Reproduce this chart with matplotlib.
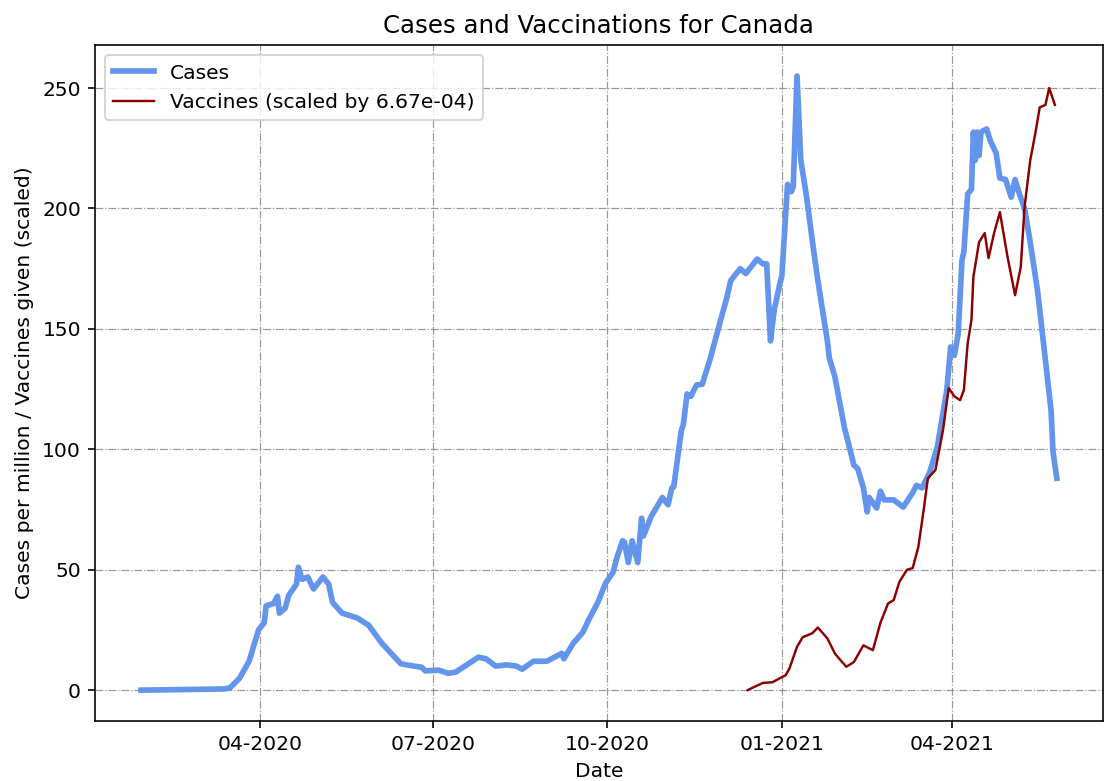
import pandas as pd
import matplotlib
matplotlib.use("Agg")
import matplotlib.pyplot as plt
import matplotlib.dates as mdates

# daily cases per million
case_dates = [
    "2020-01-29", "2020-03-13", "2020-03-16", "2020-03-21", "2020-03-26", "2020-03-31",
    "2020-04-03", "2020-04-04", "2020-04-08", "2020-04-10", "2020-04-11", "2020-04-14",
    "2020-04-16", "2020-04-20", "2020-04-21", "2020-04-23", "2020-04-26", "2020-04-29",
    "2020-05-04", "2020-05-07", "2020-05-09", "2020-05-14", "2020-05-22", "2020-05-28",
    "2020-06-04", "2020-06-14", "2020-06-17", "2020-06-25", "2020-06-27", "2020-07-04",
    "2020-07-09", "2020-07-13", "2020-07-25", "2020-07-29", "2020-08-03", "2020-08-09",
    "2020-08-14", "2020-08-17", "2020-08-23", "2020-08-30", "2020-09-07", "2020-09-08",
    "2020-09-13", "2020-09-18", "2020-09-21", "2020-09-26", "2020-09-30", "2020-10-04",
    "2020-10-06", "2020-10-09", "2020-10-10", "2020-10-12", "2020-10-14", "2020-10-17",
    "2020-10-19", "2020-10-20", "2020-10-24", "2020-10-30", "2020-11-02", "2020-11-04",
    "2020-11-05", "2020-11-09", "2020-11-10", "2020-11-12", "2020-11-14", "2020-11-17",
    "2020-11-20", "2020-11-24", "2020-11-30", "2020-12-03", "2020-12-05", "2020-12-10",
    "2020-12-13", "2020-12-19", "2020-12-22", "2020-12-24", "2020-12-26", "2020-12-28",
    "2020-12-31", "2021-01-01", "2021-01-04", "2021-01-06", "2021-01-07", "2021-01-09",
    "2021-01-11", "2021-01-14", "2021-01-17", "2021-01-20", "2021-01-25", "2021-01-26",
    "2021-01-29", "2021-02-03", "2021-02-08", "2021-02-10", "2021-02-13", "2021-02-15",
    "2021-02-16", "2021-02-20", "2021-02-22", "2021-02-24", "2021-03-01", "2021-03-06",
    "2021-03-11", "2021-03-13", "2021-03-16", "2021-03-20", "2021-03-24", "2021-03-27",
    "2021-03-29", "2021-03-31", "2021-04-02", "2021-04-04", "2021-04-06", "2021-04-07",
    "2021-04-09", "2021-04-11", "2021-04-12", "2021-04-13", "2021-04-14", "2021-04-15",
    "2021-04-16", "2021-04-19", "2021-04-21", "2021-04-24", "2021-04-26", "2021-04-29",
    "2021-05-02", "2021-05-04", "2021-05-06", "2021-05-09", "2021-05-12", "2021-05-16",
    "2021-05-20", "2021-05-23", "2021-05-24", "2021-05-26",
]
case_values = [
    0, 0.5, 1, 5, 12, 25,
    28, 35, 36, 39, 32, 34,
    39.5, 44, 51, 46, 47, 42,
    47, 44, 36.5, 32, 30, 27,
    19.5, 11, 10.5, 9.5, 8, 8.3,
    7, 7.5, 13.7, 13, 10, 10.5,
    10, 8.7, 12, 12, 15.3, 13,
    19.5, 24, 29, 36.5, 44.4, 49,
    55, 62, 61.5, 53, 62, 53,
    71.4, 64, 72, 80, 77, 84,
    84.5, 108, 110, 123, 122, 126.7,
    127, 137, 154.5, 163, 170, 175,
    173, 179, 177, 177, 145, 158,
    169, 172, 210, 207, 209, 255,
    220, 205, 187, 170, 145, 138,
    130, 109, 93.4, 92, 84, 74,
    80, 75.6, 82.6, 79, 79, 76,
    82, 85, 84, 90.5, 101, 115,
    124.6, 142.5, 139, 148, 178.6, 182,
    206, 208, 231.7, 220, 231.7, 222,
    231.7, 233, 228, 223, 212.6, 212,
    204.7, 212, 206.8, 200, 186, 165,
    137, 116, 99, 88,
]

# vaccines given, already multiplied by the scale factor
vacc_dates = [
    "2020-12-14", "2020-12-17", "2020-12-22", "2020-12-27", "2021-01-03", "2021-01-05",
    "2021-01-09", "2021-01-12", "2021-01-17", "2021-01-20", "2021-01-25", "2021-01-29",
    "2021-01-31", "2021-02-04", "2021-02-08", "2021-02-13", "2021-02-18", "2021-02-22",
    "2021-02-26", "2021-03-01", "2021-03-04", "2021-03-08", "2021-03-11", "2021-03-14",
    "2021-03-17", "2021-03-19", "2021-03-23", "2021-03-27", "2021-03-30", "2021-04-02",
    "2021-04-05", "2021-04-07", "2021-04-09", "2021-04-11", "2021-04-12", "2021-04-15",
    "2021-04-18", "2021-04-20", "2021-04-23", "2021-04-26", "2021-04-30", "2021-05-04",
    "2021-05-07", "2021-05-09", "2021-05-12", "2021-05-15", "2021-05-17", "2021-05-20",
    "2021-05-22", "2021-05-25",
]
vacc_values = [
    0, 1.2, 3, 3.3, 6.2, 9,
    18, 22, 23.6, 26, 21.5, 15.2,
    13.3, 9.7, 11.7, 18.6, 16.6, 28,
    36, 37.4, 45, 50, 50.7, 59.5,
    76, 88, 91.4, 108, 125.4, 122,
    120.4, 124.6, 144, 153.7, 171.5, 186,
    189.8, 179.4, 190, 198.5, 180, 164,
    175.7, 200.6, 220, 232.6, 242, 243,
    250, 243,
]
scale = 6.67e-04

DPI = 146
fig, ax = plt.subplots(figsize=(1107 / DPI, 781 / DPI), dpi=DPI)
fig.subplots_adjust(left=0.086, right=0.996, top=0.942, bottom=0.077)

ax.plot(pd.to_datetime(case_dates), case_values, color="cornflowerblue",
        linewidth=2.8, label="Cases")
ax.plot(pd.to_datetime(vacc_dates), vacc_values, color="darkred",
        linewidth=1.2, label=f"Vaccines (scaled by {scale:.2e})")

ax.xaxis.set_major_locator(mdates.MonthLocator(bymonth=[1, 4, 7, 10]))
ax.xaxis.set_major_formatter(mdates.DateFormatter("%m-%Y"))

ax.grid(True, linestyle="-.", color="gray", alpha=0.8, linewidth=0.6)
ax.set_title("Cases and Vaccinations for Canada")
ax.set_xlabel("Date")
ax.set_ylabel("Cases per million / Vaccines given (scaled)")
ax.legend(loc="upper left")

fig.savefig("out.png", dpi=DPI)
